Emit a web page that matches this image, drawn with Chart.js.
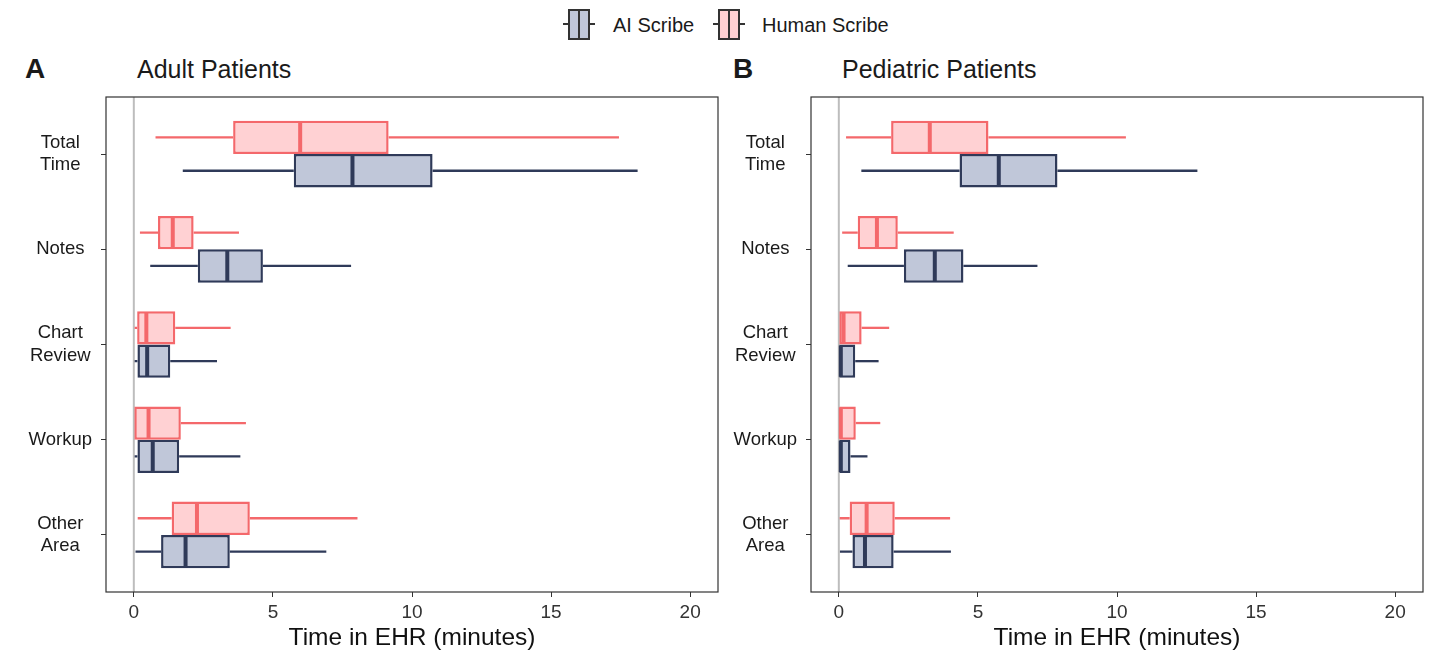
<!DOCTYPE html>
<html>
<head>
<meta charset="utf-8">
<script src="https://cdn.jsdelivr.net/npm/chart.js@4.4.1/dist/chart.umd.min.js"></script>
<style>
  html, body { margin: 0; padding: 0; background: #fff; }
  body {
    width: 1456px; height: 665px; position: relative; overflow: hidden;
    font-family: "Liberation Sans", Arial, Helvetica, sans-serif; color: #1a1a1a;
  }
  .tag { position: absolute; top: 51px; font-size: 28px; font-weight: bold; line-height: 36px; }
  .title { position: absolute; top: 54px; font-size: 25px; line-height: 30px; }
  .panel { position: absolute; top: 50px; width: 730px; height: 615px; }
  .key { position: absolute; top: 9px; width: 32px; height: 31px; }
  .key::before { content: ""; position: absolute; left: 0; right: 0; top: 14px; height: 2px; background: #333; }
  .key i { position: absolute; left: 5px; top: 0; width: 22px; height: 31px; box-sizing: border-box; border: 2px solid #333; }
  .key i::after { content: ""; position: absolute; left: 8px; top: 0; bottom: 0; width: 2px; background: #333; }
  .lab { position: absolute; top: 13px; font-size: 20px; line-height: 24px; }
</style>
</head>
<body>

<div class="key" style="left:563px"><i style="background:#c0c7d9"></i></div>
<div class="lab" style="left:613px">AI Scribe</div>
<div class="key" style="left:713px"><i style="background:#ffd1d3"></i></div>
<div class="lab" style="left:762px">Human Scribe</div>

<div class="tag" style="left:25px">A</div>
<div class="title" style="left:137px">Adult Patients</div>
<div class="tag" style="left:733px">B</div>
<div class="title" style="left:842px">Pediatric Patients</div>

<div class="panel" style="left:0px"><canvas id="adult"></canvas></div>
<div class="panel" style="left:705px"><canvas id="peds"></canvas></div>

<script>
// categories top to bottom
const CATEGORIES = [["Total", "Time"], "Notes", ["Chart", "Review"], "Workup", ["Other", "Area"]];
const X_TICKS = [0, 5, 10, 15, 20];

// each row: [lower whisker, Q1, median, Q3, upper whisker], minutes
const ADULT_HUMAN = [
  [0.78, 3.57, 5.98, 9.16, 17.44],
  [0.22, 0.87, 1.40, 2.15, 3.78],
  [0.03, 0.12, 0.45, 1.49, 3.48],
  [0.00, 0.00, 0.53, 1.69, 4.03],
  [0.14, 1.36, 2.27, 4.17, 8.04]
];
const ADULT_AI = [
  [1.76, 5.75, 7.86, 10.74, 18.11],
  [0.59, 2.30, 3.36, 4.64, 7.81],
  [0.03, 0.13, 0.48, 1.31, 2.99],
  [0.03, 0.13, 0.68, 1.63, 3.83],
  [0.06, 0.98, 1.86, 3.45, 6.92]
];
const PEDS_HUMAN = [
  [0.26, 1.88, 3.27, 5.38, 10.32],
  [0.12, 0.68, 1.37, 2.12, 4.13],
  [0.00, 0.00, 0.17, 0.82, 1.81],
  [0.00, 0.00, 0.02, 0.61, 1.49],
  [0.03, 0.39, 1.00, 2.01, 4.00]
];
const PEDS_AI = [
  [0.81, 4.34, 5.75, 7.86, 12.89],
  [0.32, 2.34, 3.45, 4.48, 7.14],
  [0.00, 0.00, 0.04, 0.59, 1.43],
  [0.00, 0.00, 0.03, 0.42, 1.03],
  [0.04, 0.49, 0.94, 1.97, 4.03]
];

const HUMAN_LINE = "#f4686b", HUMAN_FILL = "#ffd1d3";
const AI_LINE = "#2f3a59", AI_FILL = "#c0c7d9";

// whiskers, medians, zero line and the panel frame
const boxExtras = {
  id: "boxExtras",
  beforeDatasetsDraw(chart) {
    const { ctx, chartArea } = chart;
    const x0 = chart.scales.x.getPixelForValue(0);
    ctx.save();
    ctx.strokeStyle = "#bdbdbd";
    ctx.lineWidth = 2;
    ctx.beginPath();
    ctx.moveTo(x0, chartArea.top);
    ctx.lineTo(x0, chartArea.bottom);
    ctx.stroke();
    ctx.restore();
  },
  afterDatasetsDraw(chart) {
    const { ctx } = chart;
    const xs = chart.scales.x;
    ctx.save();
    chart.data.datasets.forEach((ds, di) => {
      const meta = chart.getDatasetMeta(di);
      meta.data.forEach((bar, i) => {
        const [lo, q1, med, q3, hi] = ds.stats[i];
        const y = bar.y, h = bar.height;
        ctx.strokeStyle = ds.borderColor;
        ctx.lineWidth = 2.3;
        ctx.beginPath();
        if (q1 > lo) {
          ctx.moveTo(xs.getPixelForValue(lo), y);
          ctx.lineTo(xs.getPixelForValue(q1), y);
        }
        ctx.moveTo(xs.getPixelForValue(q3), y);
        ctx.lineTo(xs.getPixelForValue(hi), y);
        ctx.stroke();
        ctx.lineWidth = 4;
        ctx.beginPath();
        const xm = Math.max(xs.getPixelForValue(med), xs.getPixelForValue(q1) + 2);
        ctx.moveTo(xm, y - h / 2 + 1);
        ctx.lineTo(xm, y + h / 2 - 1);
        ctx.stroke();
      });
    });
    ctx.restore();
  },
  afterDraw(chart) {
    const { ctx, chartArea: a } = chart;
    ctx.save();
    ctx.strokeStyle = "#333";
    ctx.lineWidth = 1.2;
    ctx.strokeRect(a.left, a.top, a.right - a.left, a.bottom - a.top);
    ctx.restore();
  }
};

function makeChart(id, human, ai) {
  const boxes = (rows) => rows.map((r, i) => ({ y: i + 1, x: [r[1], r[3]] }));
  return new Chart(document.getElementById(id), {
    type: "bar",
    data: {
      datasets: [
        {
          label: "Human Scribe", data: boxes(human), stats: human,
          backgroundColor: HUMAN_FILL, borderColor: HUMAN_LINE,
          borderWidth: 2.5, borderSkipped: false
        },
        {
          label: "AI Scribe", data: boxes(ai), stats: ai,
          backgroundColor: AI_FILL, borderColor: AI_LINE,
          borderWidth: 2.5, borderSkipped: false
        }
      ]
    },
    options: {
      indexAxis: "y",
      responsive: true,
      maintainAspectRatio: false,
      animation: false,
      layout: { padding: { top: 47, right: 12, left: 0, bottom: 0 } },
      datasets: { bar: { categoryPercentage: 0.7, barPercentage: 1.0 } },
      plugins: { legend: { display: false }, tooltip: { enabled: false } },
      scales: {
        x: {
          type: "linear", min: -1, max: 21,
          afterBuildTicks: (s) => { s.ticks = X_TICKS.map((v) => ({ value: v })); },
          afterFit: (s) => { s.height = 73; },
          grid: { drawOnChartArea: false, tickLength: 5, color: "#333", lineWidth: 1 },
          border: { display: false },
          ticks: { font: { size: 19, family: "Liberation Sans" }, color: "#333", padding: 4 },
          title: {
            display: true, text: "Time in EHR (minutes)", color: "#111",
            font: { size: 24.5, family: "Liberation Sans" }, padding: { top: 0, bottom: 12 }
          }
        },
        y: {
          type: "linear", min: 0.4, max: 5.6, reverse: true, offset: false,
          afterBuildTicks: (s) => { s.ticks = CATEGORIES.map((c, i) => ({ value: i + 1 })); },
          afterFit: (s) => { s.width = 106; },
          grid: { offset: false, drawOnChartArea: false, tickLength: 5, color: "#333", lineWidth: 1 },
          border: { display: false },
          ticks: {
            callback: (v, i) => CATEGORIES[i],
            crossAlign: "center", padding: 9, color: "#1a1a1a",
            font: { size: 18.5, family: "Liberation Sans", lineHeight: 1.22 }
          }
        }
      }
    },
    plugins: [boxExtras]
  });
}

makeChart("adult", ADULT_HUMAN, ADULT_AI);
makeChart("peds", PEDS_HUMAN, PEDS_AI);
</script>
</body>
</html>
